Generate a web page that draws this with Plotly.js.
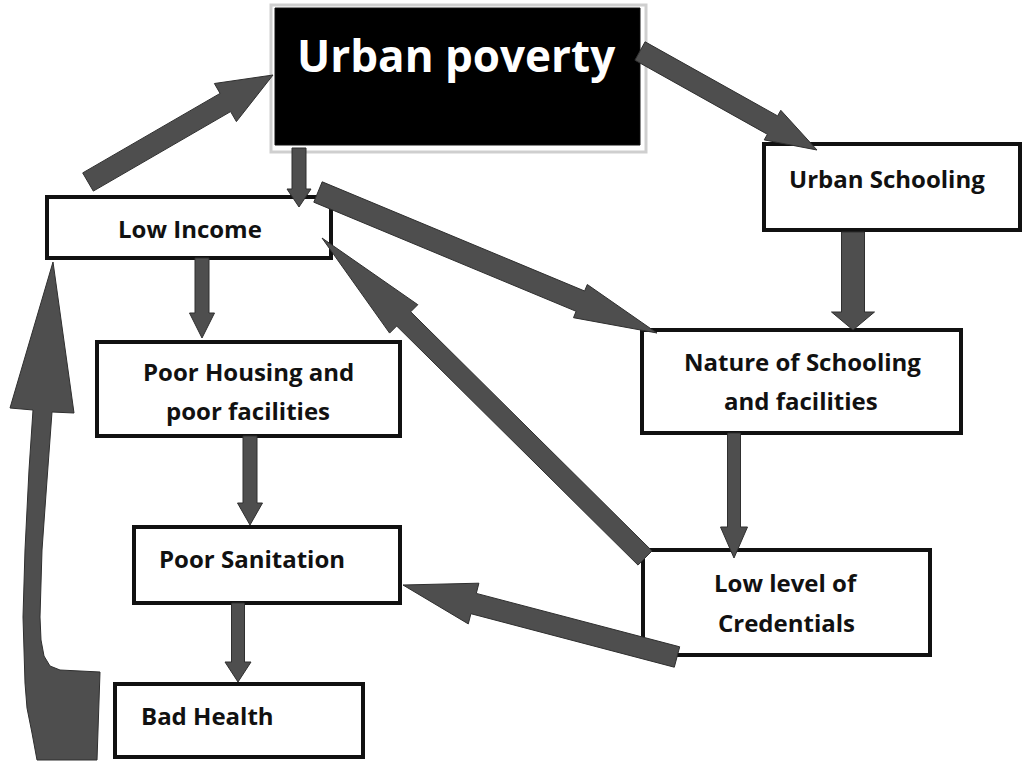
<!DOCTYPE html>
<html>
<head>
<meta charset="utf-8">
<script src="https://cdn.plot.ly/plotly-3.0.1.min.js"></script>
<style>html,body{margin:0;padding:0;background:#fff;}#chart{width:1022px;height:761px;}</style>
</head>
<body>
<div id="chart"></div>
<script>
// ---- Nodes (boxes) ----
var nodeNames = ["Urban poverty","Low Income","Poor Housing","Poor Sanitation","Bad Health","Urban Schooling","Nature of Schooling","Credentials"];
var nodeX0 = [275, 47, 97, 134, 115, 764, 642, 643];
var nodeX1 = [640, 331, 400, 400, 363, 1020, 961, 930];
var nodeY0 = [8, 197, 342, 527, 684, 144, 330, 550];
var nodeY1 = [145, 258, 436, 603, 757, 230, 433, 655];

// ---- Labels ----
var labelText = ["Urban poverty","Low Income","Poor Housing and","poor facilities","Poor Sanitation","Bad Health","Urban Schooling","Nature of Schooling","and facilities","Low level of","Credentials"];
var labelX = [456, 190, 248, 248, 252, 207, 887, 802, 801, 786, 786];
var labelY = [55, 228, 371, 410, 558, 715, 178, 361, 400, 582, 622];

// ---- Straight arrows: tail -> tip ----
var arrowTailX = [88, 640, 299, 318, 645, 202, 853, 250, 734, 238, 677];
var arrowTailY = [182, 51, 148, 192, 558, 258, 232, 436, 433, 603, 657];
var arrowTipX  = [273, 817, 299, 657, 322, 202, 853, 250, 734, 238, 403];
var arrowTipY  = [75, 150, 207, 333, 238, 338, 330, 525, 558, 682, 585];
var arrowShaft = [21, 21, 14, 22, 20, 14, 23, 14, 13, 13, 21];
var arrowHeadW = [44, 34, 24, 36, 40, 25, 43, 25, 27, 26, 42];
var arrowHeadL = [55, 51, 18, 83, 115, 25, 18, 22, 31, 20, 73];

// ---- Curved feedback arrow outline (Bad Health -> Low Income) ----
var curveX = [37, 32, 27, 25, 23, 25, 29, 33, 10, 53, 74, 52, 47, 42, 40, 41, 44, 50, 60, 100, 97];
var curveY = [760, 733, 708, 683, 617, 550, 470, 410, 408, 262, 413, 412, 480, 550, 617, 640, 656, 666, 670, 672, 760];

var ARROW_FILL = "#4e4e4e", ARROW_LINE = "#2f2f2f";
var shapes = [];

// Urban poverty frame (light grey) behind black box
shapes.push({type:"rect", xref:"x", yref:"y", x0:nodeX0[0]-4, x1:nodeX1[0]+6, y0:nodeY0[0]-3, y1:nodeY1[0]+7,
  fillcolor:"#ffffff", line:{color:"#cfcfcf", width:3}, layer:"below"});

for (var i = 0; i < nodeNames.length; i++) {
  var isTop = (i === 0);
  shapes.push({type:"rect", xref:"x", yref:"y", x0:nodeX0[i], x1:nodeX1[i], y0:nodeY0[i], y1:nodeY1[i],
    fillcolor: isTop ? "#000000" : "#ffffff",
    line:{color:"#111111", width: isTop ? 1 : 4}, layer:"below"});
}

function fmt(v){ return v.toFixed(1); }
function arrowPath(tx, ty, hx, hy, w, hw, hl) {
  var dx = hx - tx, dy = hy - ty, L = Math.sqrt(dx*dx + dy*dy);
  var ux = dx / L, uy = dy / L, nx = -uy, ny = ux;
  var bx = hx - ux*hl, by = hy - uy*hl;
  var p = [
    [tx + nx*w/2, ty + ny*w/2],
    [bx + nx*w/2, by + ny*w/2],
    [bx + nx*hw/2, by + ny*hw/2],
    [hx, hy],
    [bx - nx*hw/2, by - ny*hw/2],
    [bx - nx*w/2, by - ny*w/2],
    [tx - nx*w/2, ty - ny*w/2]
  ];
  var s = "M " + fmt(p[0][0]) + "," + fmt(p[0][1]);
  for (var k = 1; k < p.length; k++) s += " L " + fmt(p[k][0]) + "," + fmt(p[k][1]);
  return s + " Z";
}
for (var j = 0; j < arrowTailX.length; j++) {
  shapes.push({type:"path", xref:"x", yref:"y",
    path: arrowPath(arrowTailX[j], arrowTailY[j], arrowTipX[j], arrowTipY[j], arrowShaft[j], arrowHeadW[j], arrowHeadL[j]),
    fillcolor: ARROW_FILL, line:{color:ARROW_LINE, width:1}, layer:"above"});
}
var cp = "M " + curveX[0] + "," + curveY[0];
for (var c = 1; c < curveX.length; c++) cp += " L " + curveX[c] + "," + curveY[c];
cp += " Z";
shapes.push({type:"path", xref:"x", yref:"y", path:cp, fillcolor:ARROW_FILL, line:{color:ARROW_LINE, width:1}, layer:"above"});

var annotations = [];
for (var a = 0; a < labelText.length; a++) {
  var big = (a === 0);
  annotations.push({x:labelX[a], y:labelY[a], xref:"x", yref:"y", text:labelText[a], showarrow:false,
    xanchor:"center", yanchor:"middle",
    font:{family:"Open Sans, Noto Sans, sans-serif", size: big ? 44 : 24, color: big ? "#ffffff" : "#111111", weight: 700}});
}

var layout = {
  width:1022, height:761,
  margin:{l:0, r:0, t:0, b:0, pad:0},
  paper_bgcolor:"#ffffff", plot_bgcolor:"#ffffff",
  showlegend:false,
  xaxis:{range:[0,1022], visible:false, fixedrange:true},
  yaxis:{range:[761,0], visible:false, fixedrange:true},
  shapes:shapes, annotations:annotations
};
Plotly.newPlot("chart", [{x:[], y:[], type:"scatter", mode:"markers", hoverinfo:"skip"}], layout, {displayModeBar:false, staticPlot:true});
</script>
</body>
</html>
